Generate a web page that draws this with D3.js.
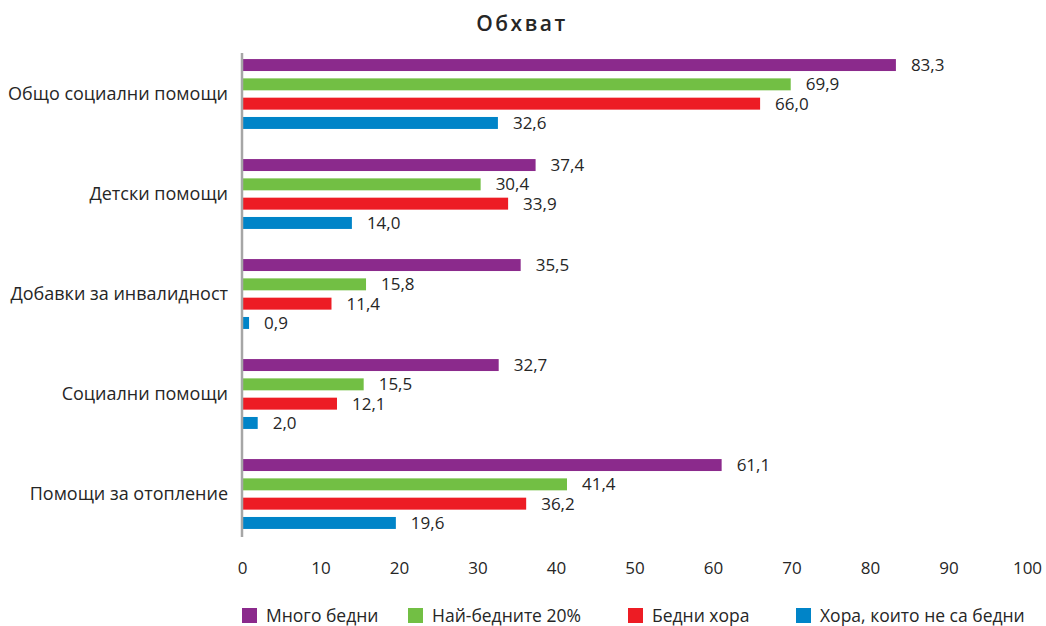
<!DOCTYPE html>
<html>
<head>
<meta charset="utf-8">
<script src="https://cdn.jsdelivr.net/npm/d3@7"></script>
<style>
  body { margin: 0; background: #fff; }
  text { font-family: "Open Sans", sans-serif; fill: #262626; }
</style>
</head>
<body>
<div id="chart"></div>
<script>
var width = 1046;
var height = 626;

// categories and series
var categories = ["Общо социални помощи", "Детски помощи", "Добавки за инвалидност", "Социални помощи", "Помощи за отопление"];
var seriesNames = ["Много бедни", "Най-бедните 20%", "Бедни хора", "Хора, които не са бедни"];
var seriesColors = ["#8B2A8C", "#72BF44", "#ED1C24", "#0084C8"];
var veryPoor = [83.3, 37.4, 35.5, 32.7, 61.1];
var poorest20 = [69.9, 30.4, 15.8, 15.5, 41.4];
var poor = [66.0, 33.9, 11.4, 12.1, 36.2];
var notPoor = [32.6, 14.0, 0.9, 2.0, 19.6];
var xTicks = [0, 10, 20, 30, 40, 50, 60, 70, 80, 90, 100];

var seriesValues = [veryPoor, poorest20, poor, notPoor];

var svg = d3.select("#chart").append("svg")
    .attr("width", width)
    .attr("height", height);

var margin = { top: 44, left: 242, right: 19, bottom: 82 };
var plotW = width - margin.left - margin.right;
var plotH = height - margin.top - margin.bottom;

var g = svg.append("g").attr("transform", "translate(" + margin.left + "," + margin.top + ")");

var x = d3.scaleLinear().domain([0, 100]).range([0, plotW]);
var y0 = d3.scaleBand().domain(categories).range([0, plotH]);
var y1 = d3.scaleBand().domain(d3.range(4)).range([0, y0.bandwidth()]).paddingInner(0.38).paddingOuter(0.78);

// title
svg.append("text")
    .attr("x", 522).attr("y", 31)
    .attr("text-anchor", "middle")
    .style("font-size", "21px")
    .style("font-weight", "600")
    .style("letter-spacing", "2.5px")
    .text("Обхват");

// bars
var groups = g.selectAll(".grp").data(categories).enter().append("g")
    .attr("transform", function (d) { return "translate(0," + y0(d) + ")"; });

groups.each(function (cat, ci) {
    var grp = d3.select(this);
    seriesValues.forEach(function (vals, si) {
        grp.append("rect")
            .attr("x", x(0))
            .attr("y", y1(si))
            .attr("width", x(vals[ci]) - x(0))
            .attr("height", y1.bandwidth())
            .attr("fill", seriesColors[si]);
        grp.append("text")
            .attr("x", x(vals[ci]) + 15)
            .attr("y", y1(si) + y1.bandwidth() / 2)
            .attr("dy", "0.35em")
            .style("font-size", "17px")
            .text(d3.format(".1f")(vals[ci]).replace(".", ","));
    });
});

// y axis line and category labels
var yAxis = g.append("g").call(d3.axisLeft(y0).tickSize(0).tickPadding(14));
yAxis.select(".domain").attr("stroke", "#a6a6a6").attr("stroke-width", 2.5).attr("d", "M0,9V" + (plotH - 7));
yAxis.selectAll("text").style("font-size", "18px").style("font-family", "Open Sans, sans-serif").attr("fill", "#262626");

// x axis tick labels
var xAxis = g.append("g").attr("transform", "translate(0," + plotH + ")")
    .call(d3.axisBottom(x).tickValues(xTicks).tickSize(0).tickPadding(18));
xAxis.select(".domain").remove();
xAxis.selectAll("text").style("font-size", "17px").style("font-family", "Open Sans, sans-serif").attr("fill", "#262626");

// legend
var legendX = [242, 408, 628, 796];
var legend = svg.selectAll(".leg").data(seriesNames).enter().append("g")
    .attr("transform", function (d, i) { return "translate(" + legendX[i] + ",608)"; });
legend.append("rect").attr("width", 15).attr("height", 15).attr("fill", function (d, i) { return seriesColors[i]; });
legend.append("text").attr("x", 24).attr("y", 8).attr("dy", "0.35em")
    .style("font-size", "17.5px").text(function (d) { return d; });
</script>
</body>
</html>
